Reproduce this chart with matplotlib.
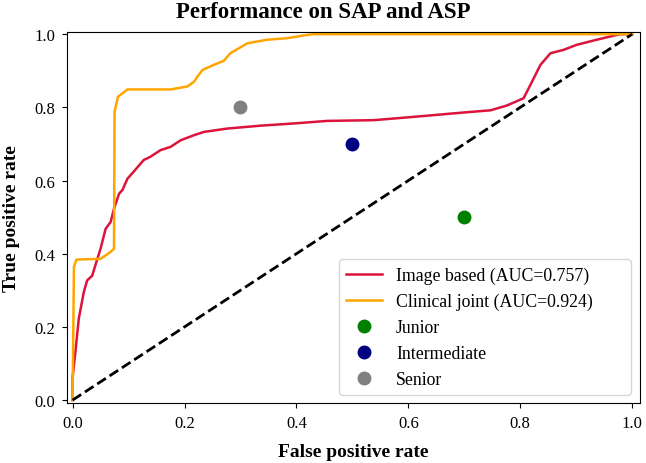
import numpy as np
import matplotlib
matplotlib.use('Agg')
import matplotlib.pyplot as plt

plt.rcParams['font.family'] = ['Liberation Serif', 'DejaVu Serif']

# ROC points
img_fpr = [0.0, 0.0, 0.005, 0.011, 0.020, 0.026, 0.035, 0.041, 0.050, 0.059, 0.068, 0.074,
           0.083, 0.089, 0.098, 0.109, 0.127, 0.139, 0.157, 0.175, 0.193, 0.217, 0.235,
           0.276, 0.336, 0.395, 0.455, 0.538, 0.609, 0.699, 0.747, 0.776, 0.806, 0.818,
           0.836, 0.854, 0.877, 0.901, 0.937, 0.967, 0.978, 1.0]
img_tpr = [0.0, 0.062, 0.131, 0.222, 0.295, 0.327, 0.340, 0.370, 0.414, 0.468, 0.487, 0.523,
           0.564, 0.574, 0.605, 0.624, 0.656, 0.665, 0.683, 0.692, 0.710, 0.724, 0.733,
           0.742, 0.750, 0.756, 0.763, 0.765, 0.774, 0.786, 0.792, 0.805, 0.825, 0.861,
           0.916, 0.948, 0.957, 0.971, 0.985, 0.996, 1.0, 1.0]

clin_fpr = [0.0, 0.0, 0.0024, 0.007, 0.050, 0.068, 0.074, 0.075, 0.081, 0.098, 0.175, 0.205,
            0.217, 0.223, 0.232, 0.252, 0.270, 0.282, 0.312, 0.348, 0.383, 0.419, 0.431, 1.0]
clin_tpr = [0.0, 0.0, 0.364, 0.384, 0.386, 0.405, 0.414, 0.788, 0.829, 0.849, 0.849, 0.857,
            0.870, 0.884, 0.902, 0.916, 0.927, 0.948, 0.975, 0.985, 0.989, 0.998, 1.0, 1.0]

readers = ['Junior', 'Intermediate', 'Senior']
reader_fpr = [0.7, 0.5, 0.3]
reader_tpr = [0.5, 0.7, 0.8]
reader_colors = ['green', 'navy', 'grey']

fig = plt.figure(figsize=(6.46, 4.64), dpi=100)
ax = fig.add_axes([67 / 646, 1 - 404 / 464, 573 / 646, 371 / 464])

ax.plot(img_fpr, img_tpr, color='crimson', lw=1.8, label='Image based (AUC=0.757)')
ax.plot(clin_fpr, clin_tpr, color='orange', lw=1.8, label='Clinical joint (AUC=0.924)')
for name, fx, ty, c in zip(readers, reader_fpr, reader_tpr, reader_colors):
    ax.plot(fx, ty, 'o', color=c, markersize=9, label=name)
ax.plot([0, 1], [0, 1], 'k--', lw=2)

ax.set_xlim(-0.01, 1.014)
ax.set_ylim(-0.008, 1.006)
ax.tick_params(labelsize=12, pad=5)
ax.set_xlabel('False positive rate', fontsize=14, fontweight='bold', labelpad=9)
ax.set_ylabel('True positive rate', fontsize=14, fontweight='bold', labelpad=10)
fig.text(0.5, 1 - 18 / 464, 'Performance on SAP and ASP', fontsize=16.5,
         fontweight='bold', ha='center', va='baseline')

# legend box is wider than its text in the reference
ax.legend(loc='lower left', bbox_to_anchor=(0.475, 0.022, 0.509, 0.353),
          mode='expand', borderaxespad=0, fontsize=12.8)

fig.savefig('out.png', dpi=100)
